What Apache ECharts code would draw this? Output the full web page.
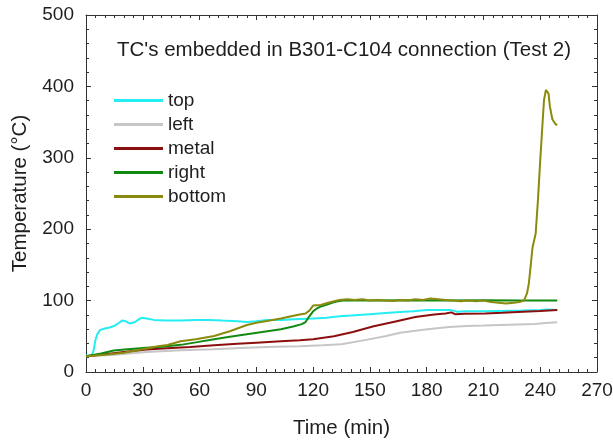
<!DOCTYPE html>
<html>
<head>
<meta charset="utf-8">
<script src="https://cdn.jsdelivr.net/npm/echarts@6/dist/echarts.min.js"></script>
<style>html,body{margin:0;padding:0;background:#fff}#c{width:613px;height:440px}</style>
</head>
<body>
<div id="c"></div>
<script>
var seriesNames = ['top', 'left', 'metal', 'right', 'bottom'];
var xTicks = [0, 30, 60, 90, 120, 150, 180, 210, 240, 270];
var yTicks = [0, 100, 200, 300, 400, 500];

var topT = [0,3,4,5,6,7.5,10,12,14.5,17,19,21,23,24,26,28,29.6,32,35.8,42,50,58,65,72,80,85,90,95.5,103,110,120,127,134,140,150,160,166,173,180,186,192,194,196,200,210,219,230,240,244,249];
var topV = [23,23,30,45,53,59,61,62,64,68,72,71,68,67,70,74,76,75,73,72,72,73,73,72,71,70,71,73,73,74,75,76,78,79,81,83,84,85,87,87,87,86,84.5,85,85,85.5,86,87,87.6,86.8];

var leftT = [0,15,32,50,67,85,100,113,125,135,148,158,166,175,184,192,201,210,219,228,237,243,249];
var leftV = [22,24,28,30.5,32,34,35.5,36,37.5,39,45,50,55,58,61,63,64.4,65,65.8,66.5,67.2,68.5,69.6];

var metalT = [0,10,20,32,45,55,67.7,80,90,103,113,120,131,141,152,163,174,184,190,193,195,200,211,220,228,240,249];
var metalV = [22,25,28,31.5,33.5,35,37.5,39.5,41,43,44.5,46,50,56,64,70.5,77,80.5,82,83.5,81,81.5,82,83,84,85.5,86.8];

var rightT = [0,8,14.7,22,32,40,50,58,67.7,76,85,94,103,110,114,116,118,120,122,124,127,130,133,136,150,170,190,210,230,249];
var rightV = [22,26,30,32,34,35.5,38,41.5,46,49.5,53,56.5,60,64,67,70,78,85,89,91.5,94,97,99,100,100,100.5,100,100.5,100,100];

var bottomT = [0,10,20,32,38,43,50,58,67.7,76,85,90,95.6,103,111.5,116,118,120,124,128,131,134,138,142,146,150,154,158,162,166,170,174,178,182,186,190,194,198,202,206,210,214,218,222,226,229,231.4,233,234,235,235.8,236,237.6,238.8,239.8,241,242,243,243.4,244.4,245.1,246.4,248.1,249];
var bottomV = [22,24,27,33,36,37.8,43,46,50.4,57,65.8,69,71.4,75,79.8,82,86,93,94,97,99,101,102,101,102,100,101,100,99.5,101,100,102,101,103,102,101,100,99,100,99,100,98,97,96,97,98,100,110,124,150,171,175,194,241,287,339,381,395,397,390,372,354,347,346];

var colors = ['#25eef2', '#c6c6c6', '#8c0f0f', '#128a12', '#8a8a0c'];
var allT = [topT, leftT, metalT, rightT, bottomT];
var allV = [topV, leftV, metalV, rightV, bottomV];

function pairs(t, v) { return t.map(function (x, i) { return [x, v[i]]; }); }

var FONT = '"Liberation Sans", Arial, sans-serif';
var TXT = '#1e1e1e';
var AX = '#333';

function xAxisCfg(pos, showLabel) {
  return {
    type: 'value', position: pos, min: xTicks[0], max: xTicks[xTicks.length - 1], interval: xTicks[1] - xTicks[0],
    axisLine: { show: true, onZero: false, lineStyle: { color: AX, width: 1 } },
    axisTick: { show: true, inside: true, length: 5, lineStyle: { color: AX } },
    minorTick: { show: true, splitNumber: 6, length: 3, lineStyle: { color: AX } },
    splitLine: { show: false },
    axisLabel: { show: showLabel, fontSize: 19, color: TXT, fontFamily: FONT, margin: 9 },
    name: showLabel ? 'Time (min)' : '', nameLocation: 'middle', nameGap: 46,
    nameTextStyle: { fontSize: 20.5, color: TXT, fontFamily: FONT }
  };
}
function yAxisCfg(pos, showLabel) {
  return {
    type: 'value', position: pos, min: yTicks[0], max: yTicks[yTicks.length - 1], interval: yTicks[1] - yTicks[0],
    axisLine: { show: true, onZero: false, lineStyle: { color: AX, width: 1 } },
    axisTick: { show: true, inside: true, length: 5, lineStyle: { color: AX } },
    minorTick: { show: true, splitNumber: 5, length: 3, lineStyle: { color: AX } },
    splitLine: { show: false },
    axisLabel: { show: showLabel, fontSize: 19, color: TXT, fontFamily: FONT, margin: 12 },
    name: showLabel ? 'Temperature (°C)' : '', nameLocation: 'middle', nameGap: 55,
    nameTextStyle: { fontSize: 20.5, color: TXT, fontFamily: FONT }
  };
}

var series = seriesNames.map(function (n, i) {
  return {
    name: n, type: 'line', xAxisIndex: 0, yAxisIndex: 0,
    data: pairs(allT[i], allV[i]), symbol: 'none', showSymbol: false,
    lineStyle: { color: colors[i], width: 2 }, itemStyle: { color: colors[i] },
    animation: false, z: 2 + i
  };
});

var chart = echarts.init(document.getElementById('c'), null, { renderer: 'canvas' });
chart.setOption({
  animation: false,
  backgroundColor: '#fff',
  grid: { left: 86, right: 16, top: 15, bottom: 68, containLabel: false, outerBoundsMode: 'none' },
  xAxis: [xAxisCfg('bottom', true), xAxisCfg('top', false)],
  yAxis: [yAxisCfg('left', true), yAxisCfg('right', false)],
  legend: {
    data: seriesNames, orient: 'vertical', left: 109, top: 86,
    icon: 'rect', itemWidth: 49, itemHeight: 3, itemGap: 5,
    textStyle: { fontSize: 19, color: TXT, fontFamily: FONT, lineHeight: 19 }
  },
  graphic: [{
    type: 'text',
    style: { text: "TC's embedded in B301-C104 connection (Test 2)", x: 344, y: 50, textAlign: 'center', textVerticalAlign: 'middle', fontSize: 20.5, fill: TXT, fontFamily: FONT }
  }],
  series: series
});
</script>
</body>
</html>
